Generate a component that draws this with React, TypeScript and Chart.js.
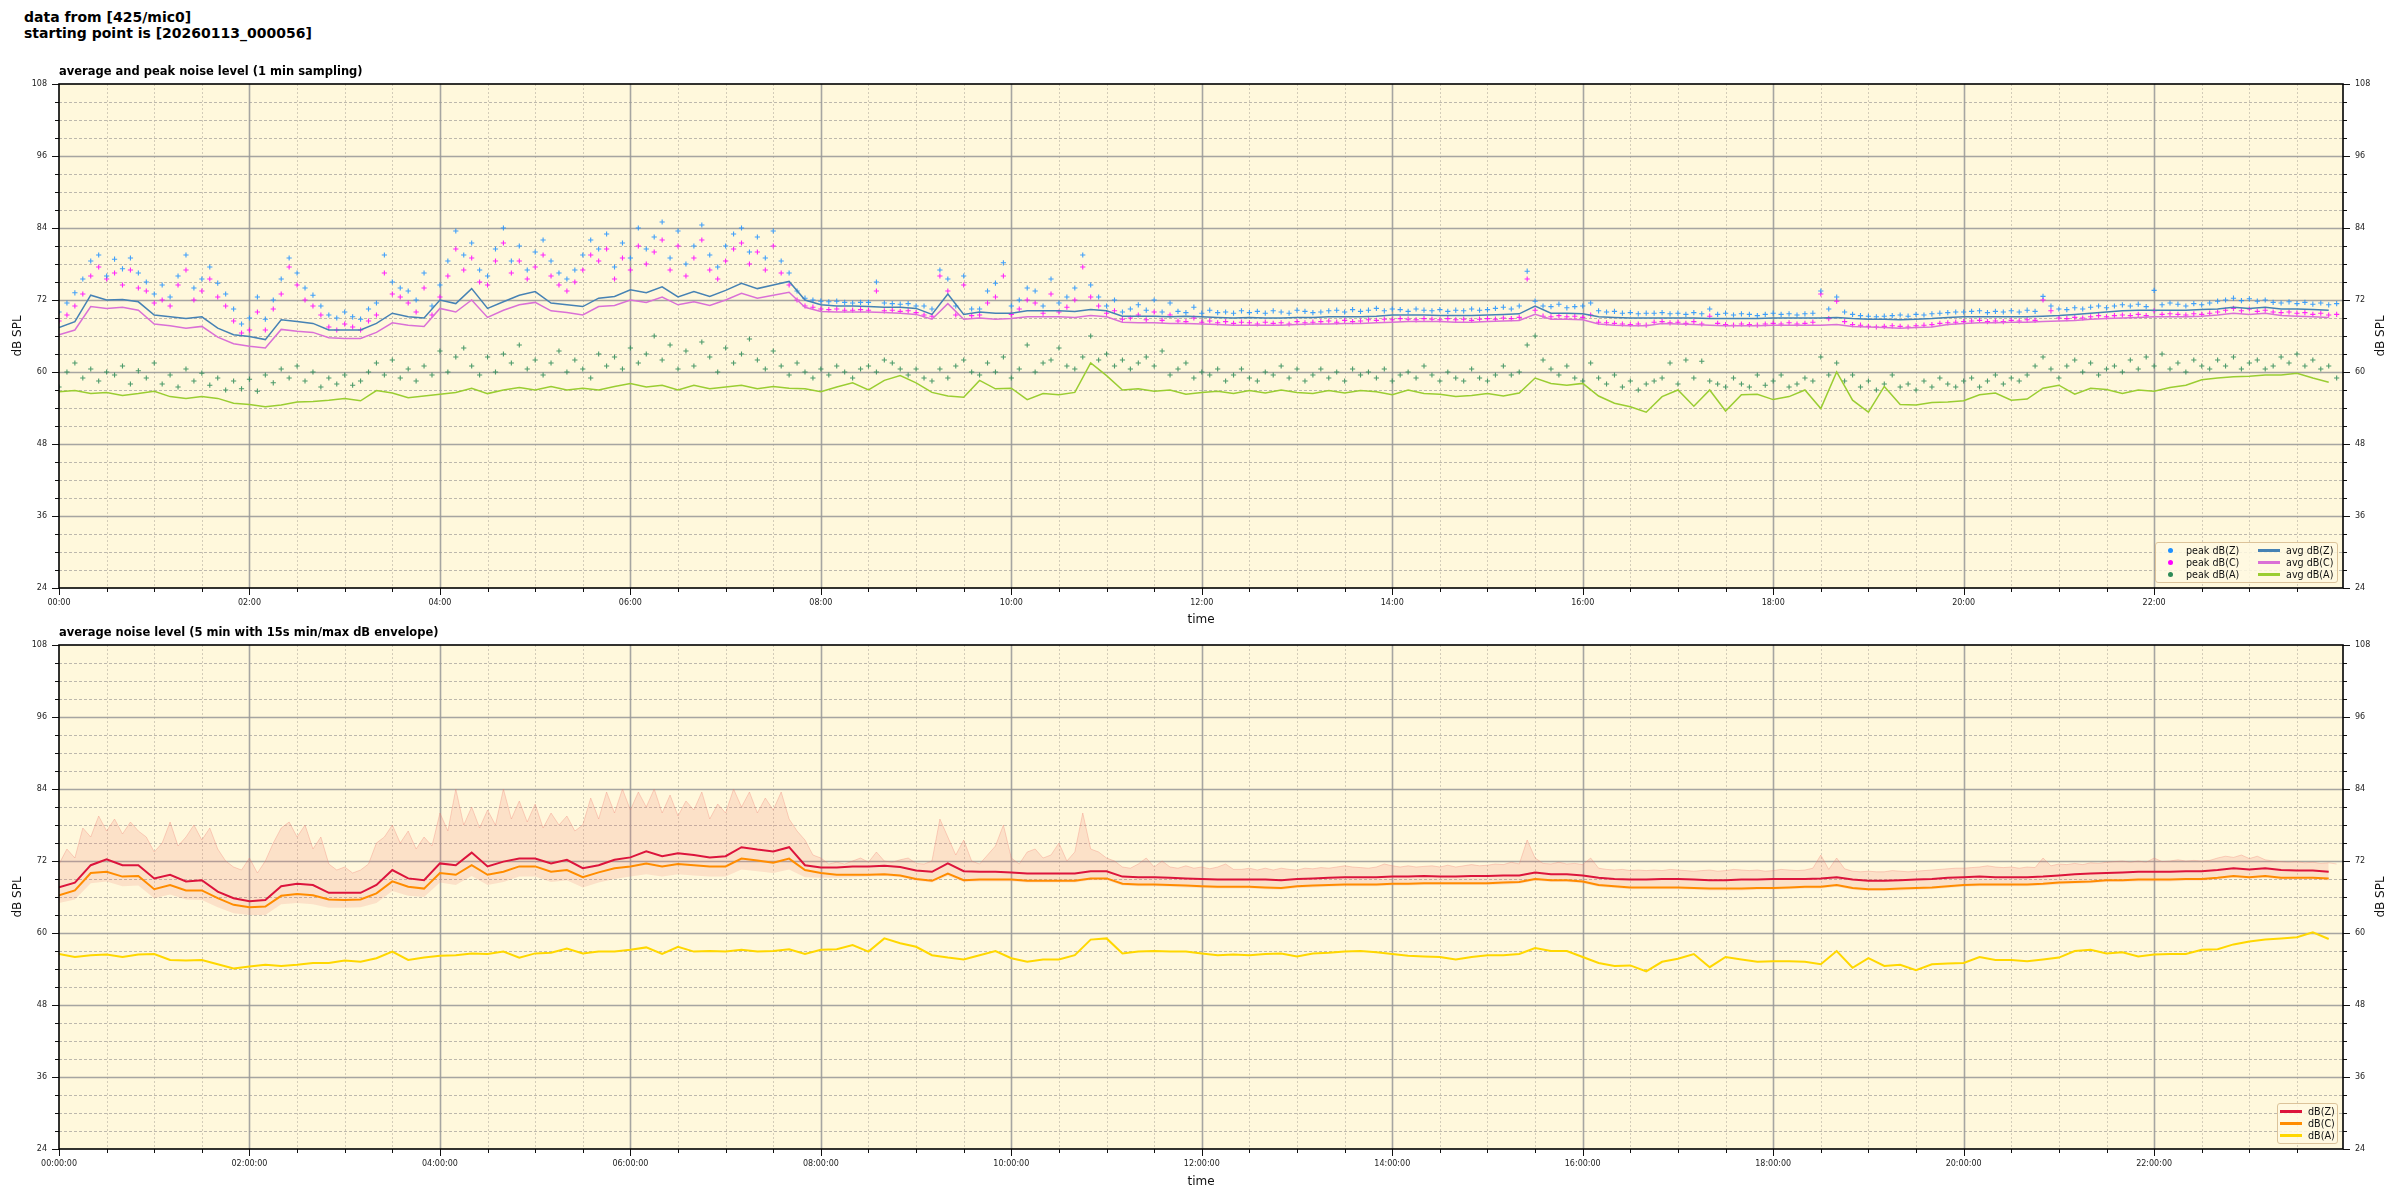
import React, { useEffect, useRef } from 'react';
import { Chart, registerables } from 'chart.js';

Chart.register(...registerables);

const FONT = '"DejaVu Sans", "Liberation Sans", sans-serif';

// sampling steps (minutes) of the arrays below
const LINE_STEP = 10;
const PEAK_STEP = 5;
const X_MAX = 1439;
const Y_MIN = 24;
const Y_MAX = 108;

const X_TICK_VALUES = [0, 30, 60, 90, 120, 150, 180, 210, 240, 270, 300, 330, 360, 390, 420, 450, 480, 510, 540, 570, 600, 630, 660, 690, 720, 750, 780, 810, 840, 870, 900, 930, 960, 990, 1020, 1050, 1080, 1110, 1140, 1170, 1200, 1230, 1260, 1290, 1320, 1350, 1380, 1410];
const X_MAJOR = [0, 120, 240, 360, 480, 600, 720, 840, 960, 1080, 1200, 1320];
const X_LABELS_TOP = ['00:00', '02:00', '04:00', '06:00', '08:00', '10:00', '12:00', '14:00', '16:00', '18:00', '20:00', '22:00'];
const X_LABELS_BOTTOM = ['00:00:00', '02:00:00', '04:00:00', '06:00:00', '08:00:00', '10:00:00', '12:00:00', '14:00:00', '16:00:00', '18:00:00', '20:00:00', '22:00:00'];
const Y_TICK_VALUES = [24, 27, 30, 33, 36, 39, 42, 45, 48, 51, 54, 57, 60, 63, 66, 69, 72, 75, 78, 81, 84, 87, 90, 93, 96, 99, 102, 105, 108];
const Y_LABELS = [24, 36, 48, 60, 72, 84, 96, 108];

// ---- top panel: 1-min averages (read every 10 min) ----
const avgZ = [
  67.4, 68.4, 72.8, 72.0, 72.1, 71.7,
  69.5, 69.2, 68.9, 69.2, 67.3, 66.2,
  65.9, 65.4, 68.7, 68.4, 68.1, 67.0,
  67.0, 67.0, 68.1, 69.8, 69.2, 69.0,
  72.0, 71.4, 73.9, 70.6, 71.7, 72.8,
  73.4, 71.5, 71.2, 70.9, 72.3, 72.6,
  73.7, 73.2, 74.2, 72.5, 73.4, 72.6,
  73.6, 74.8, 73.9, 74.5, 75.1, 72.0,
  71.2, 71.0, 71.0, 70.9, 70.8, 70.8,
  70.6, 69.6, 73.0, 69.6, 70.0, 69.8,
  69.8, 70.2, 70.2, 70.2, 70.1, 70.4,
  70.2, 69.3, 69.3, 69.3, 69.2, 69.3,
  69.2, 69.1, 69.0, 69.1, 69.0, 69.0,
  69.1, 69.1, 69.2, 69.2, 69.2, 69.3,
  69.5, 69.5, 69.5, 69.4, 69.4, 69.4,
  69.5, 69.6, 69.7, 71.0, 69.8, 69.8,
  69.7, 69.2, 69.1, 69.0, 69.0, 69.0,
  69.0, 69.0, 68.9, 68.9, 68.9, 68.9,
  69.0, 69.0, 69.0, 69.0, 69.1, 68.9,
  68.8, 68.8, 68.7, 68.8, 68.9, 69.1,
  69.2, 69.2, 69.2, 69.2, 69.2, 69.3,
  69.4, 69.6, 69.8, 70.0, 70.2, 70.3,
  70.3, 70.3, 70.3, 70.4, 70.5, 70.8,
  70.6, 70.8, 70.5, 70.5, 70.4, 70.3,
];
const avgC = [
  66.2, 67.0, 70.9, 70.6, 70.8, 70.3,
  68.0, 67.7, 67.3, 67.6, 65.8, 64.7,
  64.3, 64.0, 67.1, 66.8, 66.6, 65.7,
  65.6, 65.6, 66.6, 68.2, 67.8, 67.6,
  70.6, 70.0, 72.0, 69.1, 70.3, 71.2,
  71.6, 70.2, 69.9, 69.5, 70.9, 71.1,
  72.0, 71.6, 72.5, 71.2, 71.7, 71.1,
  72.0, 73.1, 72.3, 72.8, 73.3, 70.8,
  70.1, 70.0, 70.0, 70.0, 69.9, 69.8,
  69.6, 68.8, 71.4, 68.8, 69.0, 68.8,
  68.9, 69.2, 69.2, 69.2, 69.1, 69.4,
  69.2, 68.3, 68.2, 68.2, 68.1, 68.1,
  68.0, 67.9, 67.8, 67.8, 67.8, 67.8,
  67.9, 68.0, 68.0, 68.1, 68.1, 68.2,
  68.3, 68.4, 68.4, 68.4, 68.3, 68.3,
  68.4, 68.5, 68.6, 69.6, 68.8, 68.8,
  68.7, 68.0, 67.8, 67.7, 67.7, 68.1,
  68.0, 67.9, 67.8, 67.7, 67.7, 67.7,
  67.8, 67.8, 67.8, 67.8, 67.9, 67.6,
  67.5, 67.4, 67.3, 67.4, 67.5, 67.9,
  68.1, 68.2, 68.2, 68.3, 68.3, 68.4,
  68.5, 68.6, 68.8, 68.9, 69.0, 69.1,
  69.2, 69.2, 69.2, 69.3, 69.5, 69.8,
  69.6, 69.8, 69.4, 69.3, 69.2, 69.1,
];
const avgA = [
  56.7, 56.9, 56.4, 56.6, 56.1, 56.4,
  56.8, 55.9, 55.6, 55.9, 55.6, 54.8,
  54.6, 54.2, 54.5, 55.0, 55.1, 55.3,
  55.6, 55.2, 56.9, 56.5, 55.7, 56.0,
  56.3, 56.6, 57.3, 56.4, 57.0, 57.4,
  57.0, 57.6, 57.0, 57.3, 57.0, 57.6,
  58.1, 57.5, 57.8, 57.0, 57.8, 57.2,
  57.5, 57.8, 57.2, 57.6, 57.3, 57.2,
  56.7, 57.5, 58.2, 57.0, 58.6, 59.4,
  58.2, 56.6, 56.0, 55.8, 58.6, 57.2,
  57.3, 55.4, 56.4, 56.2, 56.6, 61.5,
  59.4, 57.0, 57.2, 56.8, 57.0, 56.3,
  56.6, 56.8, 56.4, 56.9, 56.5, 57.0,
  56.6, 56.4, 56.9, 56.5, 56.9, 56.7,
  56.2, 57.0, 56.4, 56.3, 55.9, 56.1,
  56.4, 56.0, 56.5, 59.0, 58.1, 57.8,
  58.1, 56.0, 54.8, 54.2, 53.3, 55.9,
  57.0, 54.3, 57.0, 53.5, 56.2, 56.3,
  55.4, 55.9, 57.0, 53.9, 60.0, 55.3,
  53.3, 57.6, 54.6, 54.5, 54.9, 55.0,
  55.2, 56.2, 56.5, 55.3, 55.5, 57.3,
  57.8, 56.3, 57.3, 57.1, 56.4, 57.0,
  56.8, 57.4, 57.8, 58.7, 59.0, 59.2,
  59.3, 59.5, 59.5, 59.8, 59.0, 58.3,
];

// ---- top panel: peaks (read every 5 min) ----
const peakZ = [
  70.0, 71.5, 73.2, 75.5, 78.5, 79.5, 76.0, 78.8, 77.2, 79.0, 76.5, 75.0,
  73.0, 74.5, 72.5, 76.0, 79.5, 74.0, 75.5, 77.5, 74.8, 73.0, 70.5, 68.0,
  69.0, 72.5, 68.8, 72.0, 75.5, 79.0, 76.5, 74.0, 72.8, 71.0, 69.5, 69.0,
  70.0, 69.2, 68.8, 70.5, 71.5, 79.5, 75.0, 74.0, 73.5, 72.0, 76.5, 71.0,
  74.5, 78.5, 83.5, 79.5, 81.5, 77.0, 76.0, 80.5, 84.0, 78.5, 81.0, 77.0,
  80.0, 82.0, 78.5, 76.5, 75.5, 77.0, 79.5, 82.0, 80.5, 83.0, 77.5, 81.5,
  79.0, 84.0, 80.5, 82.5, 85.0, 79.0, 83.5, 78.0, 81.0, 84.5, 79.5, 77.5,
  81.0, 83.0, 84.0, 80.0, 82.5, 79.0, 83.5, 78.5, 76.5, 73.5, 72.3, 72.0,
  71.8, 71.7, 71.8, 71.6, 71.5, 71.6, 71.6, 75.0, 71.5, 71.4, 71.3, 71.4,
  71.0, 71.0, 70.5, 77.0, 75.5, 71.0, 76.0, 70.5, 70.5, 73.5, 74.8, 78.2,
  71.0, 72.0, 74.0, 73.5, 71.0, 75.5, 71.5, 72.5, 74.0, 79.5, 74.5, 72.5,
  71.0, 72.0, 70.0, 70.5, 71.2, 70.3, 72.0, 70.0, 71.5, 70.1, 69.9, 70.8,
  69.8, 70.3, 69.9, 70.0, 69.8, 70.2, 69.9, 70.1, 69.8, 70.2, 70.0, 69.8,
  70.3, 70.1, 69.9, 70.0, 70.2, 70.3, 70.0, 70.4, 70.1, 70.3, 70.6, 70.2,
  70.5, 70.4, 70.1, 70.5, 70.3, 70.2, 70.4, 70.1, 70.3, 70.2, 70.5, 70.3,
  70.4, 70.6, 70.8, 70.5, 71.0, 76.8, 71.8, 71.0, 70.9, 71.3, 70.7, 70.9,
  71.0, 71.5, 70.2, 70.0, 70.1, 69.8, 69.9, 69.7, 69.8, 69.8, 69.9, 69.7,
  69.8, 69.6, 69.9, 69.7, 70.5, 69.6, 69.8, 69.5, 69.7, 69.6, 69.4, 69.6,
  69.8, 69.6, 69.7, 69.5, 69.7, 69.8, 73.5, 70.5, 72.5, 70.0, 69.6, 69.4,
  69.3, 69.2, 69.3, 69.4, 69.5, 69.3, 69.6, 69.5, 69.7, 69.8, 69.9, 70.0,
  70.0, 70.1, 70.2, 69.9, 70.1, 70.0, 70.2, 70.0, 70.3, 70.1, 72.6, 71.0,
  70.5, 70.4, 70.7, 70.5, 70.8, 71.0, 70.7, 71.0, 71.2, 71.0, 71.3, 70.9,
  73.6, 71.2, 71.5, 71.3, 71.0, 71.4, 71.2, 71.5, 71.8, 72.0, 72.3, 71.9,
  72.2, 71.8, 72.0, 71.6, 71.5, 71.7, 71.4, 71.6, 71.3, 71.5, 71.2, 71.4,
];
const peakC = [
  68.5, 69.5, 71.0, 73.0, 76.0, 77.5, 75.5, 76.5, 74.5, 77.0, 74.0, 73.5,
  71.5, 72.0, 71.0, 74.5, 77.0, 72.0, 73.5, 75.5, 72.5, 71.0, 68.5, 66.5,
  67.0, 70.0, 67.0, 70.5, 73.0, 77.5, 74.5, 72.0, 71.0, 69.5, 67.5, 67.0,
  68.0, 67.5, 67.0, 68.5, 69.5, 76.5, 73.0, 72.5, 71.5, 70.0, 74.0, 69.5,
  72.5, 76.0, 80.5, 77.0, 79.0, 75.0, 74.5, 78.5, 81.5, 76.5, 78.5, 75.5,
  77.5, 79.5, 76.0, 74.5, 73.5, 75.0, 77.0, 79.5, 78.5, 80.5, 75.5, 79.0,
  77.0, 81.0, 78.0, 80.0, 82.0, 77.0, 81.0, 76.0, 79.0, 82.0, 77.0, 75.5,
  78.5, 80.5, 81.5, 78.0, 80.0, 77.0, 81.0, 76.5, 74.5, 72.0, 71.0, 70.8,
  70.5, 70.4, 70.5, 70.3, 70.3, 70.4, 70.3, 73.5, 70.2, 70.3, 70.1, 70.2,
  69.9, 69.5, 69.3, 76.0, 73.5, 69.5, 74.5, 69.4, 69.5, 71.5, 72.5, 76.0,
  69.6, 70.5, 72.0, 71.5, 69.8, 73.0, 70.0, 70.8, 72.0, 77.5, 72.5, 71.0,
  69.8, 70.2, 68.8, 69.0, 69.5, 68.7, 70.0, 68.6, 69.5, 68.5, 68.4, 69.0,
  68.3, 68.5, 68.2, 68.4, 68.1, 68.3, 68.2, 68.0, 68.3, 68.1, 68.2, 68.0,
  68.4, 68.2, 68.3, 68.4, 68.5, 68.3, 68.6, 68.4, 68.5, 68.7, 68.6, 68.8,
  68.7, 68.9, 68.8, 68.7, 68.9, 68.8, 68.7, 68.9, 68.7, 68.8, 68.6, 68.8,
  68.9, 68.8, 69.0, 68.9, 69.1, 75.5, 70.3, 69.3, 69.2, 69.4, 69.2, 69.3,
  69.1, 69.5, 68.3, 68.2, 68.1, 68.0, 67.9, 68.0, 67.8, 68.3, 68.4, 68.2,
  68.3, 68.1, 68.4, 68.0, 69.3, 68.1, 67.9, 67.8, 68.0, 67.9, 67.8, 68.0,
  68.1, 68.0, 68.2, 68.0, 68.1, 68.3, 73.0, 68.9, 71.8, 68.4, 67.9, 67.8,
  67.6, 67.5, 67.6, 67.7, 67.6, 67.5, 67.7, 67.8, 67.9, 68.1, 68.2, 68.3,
  68.4, 68.5, 68.6, 68.4, 68.5, 68.4, 68.6, 68.5, 68.7, 68.6, 72.0, 70.2,
  69.0, 68.9, 69.1, 69.0, 69.2, 69.4, 69.2, 69.4, 69.5, 69.4, 69.6, 69.4,
  70.2, 69.6, 69.7, 69.6, 69.5, 69.7, 69.6, 69.8, 70.0, 70.3, 70.6, 70.2,
  70.5, 70.1, 70.3, 70.0, 69.9, 70.0, 69.8, 69.9, 69.6, 69.8, 69.5, 69.6,
];
const peakA = [
  57.5, 60.0, 61.5, 59.0, 60.5, 58.5, 60.0, 59.5, 61.0, 58.0, 60.2, 59.0,
  61.5, 58.0, 59.5, 57.5, 60.5, 58.5, 59.8, 57.8, 59.0, 57.0, 58.5, 57.2,
  58.8, 56.8, 59.5, 58.2, 60.5, 59.0, 61.0, 58.5, 60.0, 57.5, 59.0, 58.0,
  59.5, 57.8, 58.5, 60.0, 61.5, 59.5, 62.0, 59.0, 60.5, 58.5, 61.0, 59.5,
  63.5, 60.0, 62.5, 64.0, 61.0, 59.5, 62.5, 60.0, 63.0, 61.5, 64.5, 60.5,
  62.0, 59.5, 61.5, 63.5, 60.0, 62.0, 60.5, 59.0, 63.0, 61.0, 62.5, 60.5,
  64.0, 61.5, 63.0, 66.0, 62.0, 64.5, 60.5, 63.5, 61.0, 65.0, 62.5, 60.0,
  64.0, 61.5, 63.0, 65.5, 62.0, 60.5, 63.5, 61.0, 59.5, 61.5, 60.0, 59.0,
  60.5, 59.5, 61.0, 60.0, 59.0, 60.5, 61.0, 60.0, 62.0, 61.5, 60.5, 59.5,
  60.5, 59.0, 58.5, 60.5, 59.0, 61.0, 62.0, 60.0, 59.5, 61.5, 60.0, 62.5,
  59.0, 60.5, 64.5, 60.0, 61.5, 62.0, 64.0, 61.0, 60.5, 62.5, 66.0, 62.0,
  63.0, 61.0, 62.0, 60.5, 61.5, 62.5, 61.0, 63.5, 59.5, 60.5, 61.5, 59.0,
  60.0, 59.5, 60.5, 58.5, 59.5, 60.5, 59.0, 58.5, 60.0, 59.5, 61.0, 59.0,
  60.5, 58.5, 59.5, 60.5, 59.0, 60.0, 58.5, 60.5, 59.5, 60.0, 59.0, 60.5,
  58.5, 59.5, 60.0, 59.0, 61.0, 59.5, 58.5, 60.0, 59.0, 58.5, 60.5, 59.0,
  58.5, 59.5, 61.0, 59.5, 60.0, 64.5, 66.0, 62.0, 60.5, 59.5, 61.0, 59.0,
  58.5, 61.5, 59.0, 58.0, 59.5, 57.5, 58.5, 57.0, 58.0, 58.5, 59.0, 61.5,
  58.0, 62.0, 59.0, 61.8, 58.5, 58.0, 57.5, 59.0, 58.0, 57.5, 59.5, 57.8,
  58.5, 59.5, 57.5, 58.0, 59.0, 58.5, 62.5, 59.5, 61.5, 58.5, 59.5, 57.5,
  58.5, 57.0, 58.0, 59.5, 57.5, 58.0, 57.0, 58.5, 57.5, 59.0, 58.0, 57.5,
  58.5, 59.0, 57.5, 58.5, 59.5, 58.0, 59.0, 58.5, 59.5, 61.0, 62.5, 60.5,
  59.0, 61.0, 62.0, 60.0, 61.5, 59.5, 60.5, 61.0, 60.0, 62.0, 60.5, 62.5,
  61.0, 63.0, 60.5, 61.5, 60.0, 62.0, 61.0, 60.5, 62.0, 61.0, 62.5, 60.5,
  61.5, 62.0, 60.5, 61.0, 62.5, 61.5, 63.0, 61.0, 62.0, 60.5, 61.0, 59.0,
];

// ---- bottom panel: 5-min averages (read every 10 min) ----
const lvlZ = [
  67.6, 68.4, 71.3, 72.3, 71.3, 71.3,
  69.1, 69.7, 68.6, 68.8, 66.9, 65.8,
  65.3, 65.5, 67.8, 68.2, 68.0, 66.7,
  66.7, 66.7, 68.0, 70.5, 69.1, 68.8,
  71.6, 71.3, 73.4, 71.1, 71.9, 72.4,
  72.4, 71.6, 72.2, 70.8, 71.3, 72.2,
  72.6, 73.6, 72.8, 73.3, 73.0, 72.6,
  72.8, 74.3, 73.9, 73.6, 74.3, 71.3,
  70.9, 70.9, 71.1, 71.1, 71.2, 71.0,
  70.4, 70.2, 71.6, 70.3, 70.2, 70.2,
  70.1, 69.9, 69.9, 69.9, 69.9, 70.3,
  70.3, 69.4, 69.3, 69.3, 69.2, 69.1,
  69.0, 68.9, 68.9, 68.9, 68.9, 68.8,
  69.0, 69.1, 69.2, 69.3, 69.3, 69.3,
  69.4, 69.4, 69.5, 69.4, 69.4, 69.5,
  69.5, 69.6, 69.6, 70.1, 69.8, 69.8,
  69.6, 69.2, 69.0, 68.9, 68.9, 69.0,
  69.0, 68.9, 68.8, 68.8, 68.9, 68.9,
  69.0, 69.0, 69.0, 69.1, 69.3, 68.9,
  68.7, 68.7, 68.8, 68.9, 69.0, 69.2,
  69.3, 69.4, 69.3, 69.3, 69.3, 69.4,
  69.6, 69.8, 69.9, 70.0, 70.1, 70.2,
  70.2, 70.2, 70.3, 70.3, 70.5, 70.8,
  70.6, 70.8, 70.5, 70.4, 70.4, 70.2,
];
const lvlC = [
  66.3, 67.1, 70.0, 70.2, 69.4, 69.5,
  67.3, 68.0, 67.1, 67.1, 65.8, 64.7,
  64.3, 64.4, 66.2, 66.5, 66.3, 65.6,
  65.5, 65.6, 66.6, 68.6, 67.7, 67.4,
  70.0, 69.7, 71.3, 69.7, 70.2, 71.1,
  71.1, 70.2, 70.5, 69.3, 70.1, 70.8,
  71.1, 71.6, 71.1, 71.5, 71.3, 71.1,
  71.1, 72.4, 72.1, 71.7, 72.4, 70.5,
  70.0, 69.7, 69.7, 69.7, 69.8, 69.6,
  69.0, 68.7, 69.9, 68.8, 68.9, 68.9,
  68.9, 68.7, 68.7, 68.7, 68.7, 69.1,
  69.1, 68.2, 68.1, 68.1, 68.0, 67.9,
  67.8, 67.7, 67.7, 67.7, 67.6, 67.5,
  67.8, 67.9, 68.0, 68.1, 68.1, 68.1,
  68.2, 68.2, 68.3, 68.3, 68.3, 68.3,
  68.3, 68.4, 68.5, 69.0, 68.8, 68.8,
  68.6, 68.0, 67.8, 67.6, 67.6, 67.6,
  67.6, 67.5, 67.4, 67.4, 67.4, 67.5,
  67.5, 67.6, 67.7, 67.7, 68.0, 67.5,
  67.3, 67.3, 67.4, 67.5, 67.6, 67.8,
  68.0, 68.1, 68.1, 68.1, 68.1, 68.2,
  68.4, 68.5, 68.6, 68.8, 68.8, 68.9,
  68.9, 68.9, 69.0, 69.0, 69.2, 69.5,
  69.3, 69.5, 69.2, 69.2, 69.2, 69.1,
];
const lvlA = [
  56.5, 56.0, 56.3, 56.4, 56.0, 56.4,
  56.5, 55.5, 55.4, 55.5, 54.8, 54.1,
  54.4, 54.7, 54.5, 54.7, 55.0, 55.0,
  55.4, 55.2, 55.8, 56.9, 55.5, 55.9,
  56.2, 56.3, 56.6, 56.5, 56.9, 55.9,
  56.6, 56.7, 57.4, 56.6, 56.9, 56.9,
  57.2, 57.6, 56.5, 57.7, 56.9, 57.0,
  56.9, 57.2, 56.9, 57.0, 57.3, 56.5,
  57.2, 57.3, 58.0, 56.9, 59.1, 58.3,
  57.7, 56.3, 55.9, 55.6, 56.3, 57.0,
  55.8, 55.2, 55.6, 55.6, 56.3, 58.9,
  59.1, 56.6, 56.9, 57.0, 56.9, 56.9,
  56.6, 56.3, 56.4, 56.3, 56.5, 56.6,
  56.1, 56.6, 56.7, 56.9, 57.0, 56.8,
  56.5, 56.2, 56.1, 56.0, 55.6, 56.0,
  56.3, 56.3, 56.5, 57.5, 57.0, 57.0,
  56.0, 55.0, 54.5, 54.6, 53.6, 55.2,
  55.7, 56.5, 54.3, 56.0, 55.6, 55.2,
  55.3, 55.3, 55.2, 54.8, 57.0, 54.2,
  55.8, 54.5, 54.7, 53.8, 54.8, 54.9,
  55.0, 56.0, 55.5, 55.5, 55.3, 55.6,
  55.9, 57.0, 57.2, 56.6, 56.8, 56.1,
  56.4, 56.5, 56.5, 57.2, 57.3, 58.1,
  58.6, 58.9, 59.1, 59.3, 60.1, 59.0,
];
// 15 s min/max envelope: max read every 5 min, min every 10 min
const envMax = [
  71.5, 74.0, 72.5, 77.5, 76.0, 79.5, 77.0, 79.0, 76.5, 78.5, 77.0, 76.0,
  73.5, 75.0, 78.5, 74.5, 76.0, 78.0, 75.5, 77.5, 74.0, 72.0, 71.0, 70.5,
  72.5, 70.0, 72.0, 75.0, 77.5, 78.5, 76.0, 78.0, 74.0, 76.0, 71.5, 70.5,
  71.0, 70.0, 70.5, 71.5, 75.0, 76.0, 78.0, 75.0, 77.0, 74.0, 76.0, 74.5,
  80.0, 77.0, 84.0, 78.0, 81.0, 77.5, 80.5, 78.0, 84.0, 79.0, 82.0, 78.5,
  81.5, 77.5, 80.0, 78.0, 79.5, 77.0, 78.0, 82.5, 79.0, 83.5, 80.0, 84.0,
  80.5, 83.5, 81.0, 84.0, 80.0, 83.0, 79.5, 82.0, 80.5, 83.5, 79.0, 81.5,
  80.0, 84.0, 81.0, 83.5, 80.0, 82.5, 80.5, 83.5, 79.0, 77.0, 75.5, 73.0,
  72.5, 71.5, 71.8, 71.5, 72.0, 72.5, 71.8, 73.5, 72.0, 71.8, 72.2, 72.5,
  71.6, 71.5, 72.0, 79.0, 76.0, 73.0, 75.5, 72.0, 71.5, 73.0, 74.5, 78.0,
  72.5, 71.5, 73.5, 74.0, 72.5, 73.0, 75.0, 72.0, 73.5, 80.0, 74.0, 73.5,
  72.5, 72.0, 71.0, 70.8, 71.5, 72.5, 71.0, 72.0, 71.0, 70.8, 71.2, 70.8,
  71.0, 70.7, 71.0, 71.5, 70.6, 70.6, 70.8, 70.5, 70.8, 70.5, 70.8, 70.6,
  70.5, 70.8, 70.7, 70.9, 70.8, 71.0, 71.2, 71.0, 70.9, 70.8, 71.0, 71.5,
  71.2, 71.0, 71.2, 71.0, 71.1, 71.2, 71.0, 71.3, 71.0, 71.2, 71.4, 71.2,
  71.3, 71.5, 71.4, 71.8, 71.5, 75.5, 72.5, 71.6, 71.5, 71.8, 71.5, 71.6,
  71.4, 72.5, 70.8, 70.6, 70.5, 70.6, 70.4, 70.5, 70.4, 70.5, 70.4, 70.6,
  70.5, 70.4, 70.3, 70.4, 70.5, 70.3, 70.4, 70.6, 70.5, 70.4, 70.5, 70.3,
  70.4, 70.6, 70.5, 70.4, 70.5, 70.8, 73.0, 70.6, 72.5, 70.7, 70.3, 70.2,
  70.3, 70.2, 70.2, 70.4, 70.3, 70.2, 70.3, 70.4, 70.5, 70.6, 70.7, 70.8,
  70.8, 70.9, 71.0, 71.2, 71.0, 70.9, 71.0, 70.8, 71.0, 70.9, 72.5, 71.2,
  71.5, 71.4, 71.6, 71.4, 71.7, 71.6, 71.8, 71.9, 72.0, 71.8, 72.0, 71.8,
  72.5, 71.9, 72.0, 72.2, 72.0, 72.1, 72.0, 72.1, 72.5, 72.8, 72.6, 73.0,
  72.4, 72.8, 72.2, 72.0, 71.9, 71.8, 71.9, 71.7, 71.8, 71.6, 71.7, 71.5,
];
const envMin = [
  65.0, 65.6, 68.3, 68.6, 67.8, 67.9,
  65.8, 66.4, 65.6, 65.5, 64.3, 63.3,
  63.0, 63.0, 64.8, 65.0, 64.8, 64.2,
  64.2, 64.3, 65.0, 67.0, 66.2, 66.0,
  68.4, 68.0, 69.5, 68.0, 68.5, 69.4,
  69.4, 68.5, 68.8, 67.6, 68.4, 69.0,
  69.4, 69.8, 69.4, 69.8, 69.6, 69.4,
  69.4, 70.6, 70.3, 70.0, 70.6, 69.3,
  69.2, 69.2, 69.3, 69.4, 69.5, 69.3,
  68.7, 68.4, 69.5, 68.5, 68.6, 68.6,
  68.6, 68.4, 68.4, 68.4, 68.4, 68.8,
  68.8, 67.9, 67.8, 67.8, 67.7, 67.6,
  67.5, 67.4, 67.4, 67.4, 67.3, 67.2,
  67.5, 67.6, 67.7, 67.8, 67.8, 67.8,
  67.9, 67.9, 68.0, 68.0, 68.0, 68.0,
  68.0, 68.1, 68.2, 68.7, 68.5, 68.5,
  68.3, 67.7, 67.5, 67.3, 67.3, 67.3,
  67.3, 67.2, 67.1, 67.1, 67.1, 67.2,
  67.2, 67.3, 67.4, 67.4, 67.7, 67.2,
  67.0, 67.0, 67.1, 67.2, 67.3, 67.5,
  67.7, 67.8, 67.8, 67.8, 67.8, 67.9,
  68.1, 68.2, 68.3, 68.5, 68.5, 68.6,
  68.6, 68.6, 68.7, 68.7, 68.9, 69.2,
  69.0, 69.2, 68.9, 68.9, 68.9, 68.8,
];

const TOP_LEGEND_PEAK = ['peak dB(Z)', 'peak dB(C)', 'peak dB(A)'];
const TOP_LEGEND_AVG = ['avg dB(Z)', 'avg dB(C)', 'avg dB(A)'];
const BOTTOM_LEGEND = ['dB(Z)', 'dB(C)', 'dB(A)'];

const COL = {
  peakZ: 'rgba(30,144,255,0.85)',
  peakC: 'rgba(255,0,255,0.85)',
  peakA: 'rgba(46,139,87,0.85)',
  avgZ: '#4682b4',
  avgC: '#da70d6',
  avgA: '#9acd32',
  lvlZ: '#dc143c',
  lvlC: '#ff8c00',
  lvlA: '#ffd700',
  envFill: 'rgba(240,120,110,0.18)',
  envLine: 'rgba(240,120,110,0.3)',
  bg: '#fff8dc',
};

const toXY = (arr: number[], step: number) => arr.map((y, i) => ({ x: i * step, y }));

const gridPlugin = {
  id: 'mplGrid',
  beforeDatasetsDraw(chart: any) {
    const { ctx, chartArea: a, scales } = chart;
    const xs = scales.x;
    const ys = scales.y;
    ctx.save();
    ctx.fillStyle = COL.bg;
    ctx.fillRect(a.left, a.top, a.right - a.left, a.bottom - a.top);
    // minor grid
    ctx.lineWidth = 1;
    for (const v of X_TICK_VALUES) {
      if (v === 0 || X_MAJOR.includes(v)) continue;
      const px = Math.round(xs.getPixelForValue(v)) + 0.5;
      ctx.strokeStyle = '#d3ccb8';
      ctx.setLineDash([2, 2]);
      ctx.beginPath();
      ctx.moveTo(px, a.top);
      ctx.lineTo(px, a.bottom);
      ctx.stroke();
    }
    for (const v of Y_TICK_VALUES) {
      if (v === Y_MIN || v === Y_MAX || Y_LABELS.includes(v)) continue;
      const py = Math.round(ys.getPixelForValue(v)) + 0.5;
      ctx.strokeStyle = '#bdb8ad';
      ctx.setLineDash([3, 2]);
      ctx.beginPath();
      ctx.moveTo(a.left, py);
      ctx.lineTo(a.right, py);
      ctx.stroke();
    }
    // major grid
    ctx.setLineDash([]);
    ctx.lineWidth = 1.6;
    ctx.strokeStyle = 'rgba(150,150,150,0.85)';
    for (const v of X_MAJOR) {
      if (v === 0) continue;
      const px = Math.round(xs.getPixelForValue(v)) + 0.5;
      ctx.beginPath();
      ctx.moveTo(px, a.top);
      ctx.lineTo(px, a.bottom);
      ctx.stroke();
    }
    for (const v of Y_LABELS) {
      if (v === Y_MIN || v === Y_MAX) continue;
      const py = Math.round(ys.getPixelForValue(v)) + 0.5;
      ctx.beginPath();
      ctx.moveTo(a.left, py);
      ctx.lineTo(a.right, py);
      ctx.stroke();
    }
    ctx.restore();
  },
  afterDatasetsDraw(chart: any) {
    const { ctx, chartArea: a, scales } = chart;
    const xs = scales.x;
    const ys = scales.y;
    ctx.save();
    ctx.setLineDash([]);
    ctx.strokeStyle = '#111';
    ctx.lineWidth = 1;
    for (const v of Y_TICK_VALUES) {
      const len = Y_LABELS.includes(v) ? 7 : 4;
      const py = Math.round(ys.getPixelForValue(v)) + 0.5;
      ctx.beginPath();
      ctx.moveTo(a.left - len, py);
      ctx.lineTo(a.left, py);
      ctx.moveTo(a.right, py);
      ctx.lineTo(a.right + len, py);
      ctx.stroke();
    }
    for (const v of X_TICK_VALUES) {
      const len = X_MAJOR.includes(v) ? 7 : 4;
      const px = Math.round(xs.getPixelForValue(v)) + 0.5;
      ctx.beginPath();
      ctx.moveTo(px, a.bottom);
      ctx.lineTo(px, a.bottom + len);
      ctx.stroke();
    }
    ctx.lineWidth = 1.6;
    ctx.strokeStyle = '#000';
    ctx.strokeRect(a.left, a.top, a.right - a.left, a.bottom - a.top);
    ctx.restore();
  },
};

function makeScales(xHeight: number, titleBottomPad: number, xLabels: string[]) {
  const tickFont = { family: FONT, size: 8 };
  const titleFont = { family: FONT, size: 12 };
  const yCommon = {
    type: 'linear' as const,
    min: Y_MIN,
    max: Y_MAX,
    afterBuildTicks: (s: any) => {
      s.ticks = Y_TICK_VALUES.map((v) => ({ value: v }));
    },
    grid: { display: false, drawTicks: false },
    border: { display: false },
    ticks: {
      autoSkip: false,
      padding: 12,
      color: '#222',
      font: tickFont,
      callback: (v: any) => (Y_LABELS.includes(Number(v)) ? String(v) : ''),
    },
  };
  return {
    x: {
      type: 'linear' as const,
      min: 0,
      max: X_MAX,
      afterBuildTicks: (s: any) => {
        s.ticks = X_TICK_VALUES.map((v) => ({ value: v }));
      },
      afterFit: (s: any) => {
        s.height = xHeight;
        s.paddingLeft = 0;
        s.paddingRight = 0;
      },
      grid: { display: false, drawTicks: false },
      border: { display: false },
      ticks: {
        autoSkip: false,
        maxRotation: 0,
        minRotation: 0,
        padding: 10,
        color: '#222',
        font: tickFont,
        callback: (v: any) => {
          const i = X_MAJOR.indexOf(Number(v));
          return i >= 0 ? xLabels[i] : '';
        },
      },
      title: { display: true, text: 'time', color: '#111', font: titleFont, padding: { top: 0, bottom: titleBottomPad } },
    },
    y: {
      ...yCommon,
      position: 'left' as const,
      afterFit: (s: any) => {
        s.width = 59;
        s.paddingTop = 0;
        s.paddingBottom = 0;
      },
      title: { display: true, text: 'dB SPL', color: '#111', font: titleFont, padding: { top: 11, bottom: 0 } },
    },
    yR: {
      ...yCommon,
      position: 'right' as const,
      afterFit: (s: any) => {
        s.width = 57;
        s.paddingTop = 0;
        s.paddingBottom = 0;
      },
      title: { display: false },
    },
  };
}

const commonOptions = {
  responsive: false,
  animation: false as const,
  events: [] as any[],
  devicePixelRatio: 1,
  plugins: { legend: { display: false }, tooltip: { enabled: false } },
};

function lineDs(label: string, arr: number[], color: string, width: number, order: number) {
  return {
    label,
    data: toXY(arr, LINE_STEP),
    borderColor: color,
    backgroundColor: color,
    borderWidth: width,
    pointRadius: 0,
    tension: 0,
    fill: false,
    order,
  };
}

function peakDs(label: string, arr: number[], color: string) {
  return {
    label,
    data: toXY(arr, PEAK_STEP),
    showLine: false,
    pointStyle: 'cross',
    pointRadius: 2.6,
    pointBorderWidth: 1.1,
    pointBorderColor: color,
    pointBackgroundColor: color,
    borderColor: color,
    backgroundColor: color,
    order: 5,
  };
}

function topConfig(): any {
  return {
    type: 'line',
    data: {
      datasets: [
        peakDs('peak dB(Z)', peakZ, COL.peakZ),
        peakDs('peak dB(C)', peakC, COL.peakC),
        peakDs('peak dB(A)', peakA, COL.peakA),
        lineDs('avg dB(Z)', avgZ, COL.avgZ, 1.5, 1),
        lineDs('avg dB(C)', avgC, COL.avgC, 1.5, 2),
        lineDs('avg dB(A)', avgA, COL.avgA, 1.5, 1),
      ],
    },
    options: {
      ...commonOptions,
      layout: { autoPadding: false, padding: { top: 24, left: 0, right: 0, bottom: 0 } },
      scales: makeScales(42, 2.8, X_LABELS_TOP),
    },
    plugins: [gridPlugin],
  };
}

function bottomConfig(): any {
  return {
    type: 'line',
    data: {
      datasets: [
        lineDs('dB(Z)', lvlZ, COL.lvlZ, 2, 1),
        lineDs('dB(C)', lvlC, COL.lvlC, 2, 2),
        lineDs('dB(A)', lvlA, COL.lvlA, 2, 2),
        {
          label: 'envelope max',
          data: toXY(envMax, PEAK_STEP),
          borderColor: COL.envLine,
          borderWidth: 1,
          backgroundColor: COL.envFill,
          pointRadius: 0,
          tension: 0,
          fill: '+1',
          order: 10,
        },
        {
          label: 'envelope min',
          data: toXY(envMin, LINE_STEP),
          borderColor: 'rgba(0,0,0,0)',
          borderWidth: 0,
          pointRadius: 0,
          tension: 0,
          fill: false,
          order: 11,
        },
      ],
    },
    options: {
      ...commonOptions,
      layout: { autoPadding: false, padding: { top: 15, left: 0, right: 0, bottom: 0 } },
      scales: makeScales(51, 10.8, X_LABELS_BOTTOM),
    },
    plugins: [gridPlugin],
  };
}

const abs = (s: any) => ({ position: 'absolute' as const, ...s });

function LegendText({ x, y, text }: { x: number; y: number; text: string }) {
  return (
    <div style={abs({ left: x, top: y - 7, fontSize: 9.6, lineHeight: '14px', color: '#111', whiteSpace: 'nowrap' })}>{text}</div>
  );
}

function RightTitle({ cy }: { cy: number }) {
  return (
    <div
      style={abs({
        left: 2380,
        top: cy,
        fontSize: 12,
        lineHeight: '14px',
        color: '#111',
        whiteSpace: 'nowrap',
        transform: 'translate(-50%, -50%) rotate(-90deg)',
      })}
    >
      dB SPL
    </div>
  );
}

export default function App() {
  const topRef = useRef<HTMLCanvasElement>(null);
  const botRef = useRef<HTMLCanvasElement>(null);

  useEffect(() => {
    const c1 = new Chart(topRef.current as HTMLCanvasElement, topConfig());
    const c2 = new Chart(botRef.current as HTMLCanvasElement, bottomConfig());
    return () => {
      c1.destroy();
      c2.destroy();
    };
  }, []);

  const rowsY = [7.5, 19.5, 31.5];
  const peakColors = ['dodgerblue', 'magenta', 'seagreen'];
  const avgColors = [COL.avgZ, COL.avgC, COL.avgA];
  const lvlColors = [COL.lvlZ, COL.lvlC, COL.lvlA];

  return (
    <div style={abs({ left: 0, top: 0, width: 2400, height: 1200, background: '#fff', fontFamily: FONT, overflow: 'hidden' })}>
      <canvas ref={topRef} width={2400} height={570} style={abs({ left: 0, top: 60, width: 2400, height: 570 })} />
      <canvas ref={botRef} width={2400} height={570} style={abs({ left: 0, top: 630, width: 2400, height: 570 })} />

      <div style={abs({ left: 24, top: 9, fontSize: 14, lineHeight: '16px', fontWeight: 'bold', color: '#000', whiteSpace: 'nowrap' })}>
        <div>data from [425/mic0]</div>
        <div>starting point is [20260113_000056]</div>
      </div>
      <div style={abs({ left: 59, top: 64, fontSize: 11.5, lineHeight: '14px', fontWeight: 'bold', color: '#000', whiteSpace: 'nowrap' })}>
        average and peak noise level (1 min sampling)
      </div>
      <div style={abs({ left: 59, top: 625, fontSize: 11.5, lineHeight: '14px', fontWeight: 'bold', color: '#000', whiteSpace: 'nowrap' })}>
        average noise level (5 min with 15s min/max dB envelope)
      </div>

      <RightTitle cy={336} />
      <RightTitle cy={897} />

      <div style={abs({ left: 2155, top: 542, width: 183, height: 41, boxSizing: 'border-box', border: '1px solid #dcc39a', borderRadius: 3, background: 'rgba(255,249,226,0.85)' })}>
        {TOP_LEGEND_PEAK.map((t, i) => (
          <React.Fragment key={t}>
            <div style={abs({ left: 11.5, top: rowsY[i] - 2.5, width: 5, height: 5, borderRadius: '50%', background: peakColors[i] })} />
            <LegendText x={30} y={rowsY[i]} text={t} />
          </React.Fragment>
        ))}
        {TOP_LEGEND_AVG.map((t, i) => (
          <React.Fragment key={t}>
            <div style={abs({ left: 102, top: rowsY[i] - 1.75, width: 22, height: 3.5, background: avgColors[i] })} />
            <LegendText x={130} y={rowsY[i]} text={t} />
          </React.Fragment>
        ))}
      </div>

      <div style={abs({ left: 2277, top: 1103, width: 61, height: 41, boxSizing: 'border-box', border: '1px solid #dcc39a', borderRadius: 3, background: 'rgba(255,249,226,0.85)' })}>
        {BOTTOM_LEGEND.map((t, i) => (
          <React.Fragment key={t}>
            <div style={abs({ left: 2, top: rowsY[i] - 1.75, width: 22, height: 3.5, background: lvlColors[i] })} />
            <LegendText x={30} y={rowsY[i]} text={t} />
          </React.Fragment>
        ))}
      </div>
    </div>
  );
}
